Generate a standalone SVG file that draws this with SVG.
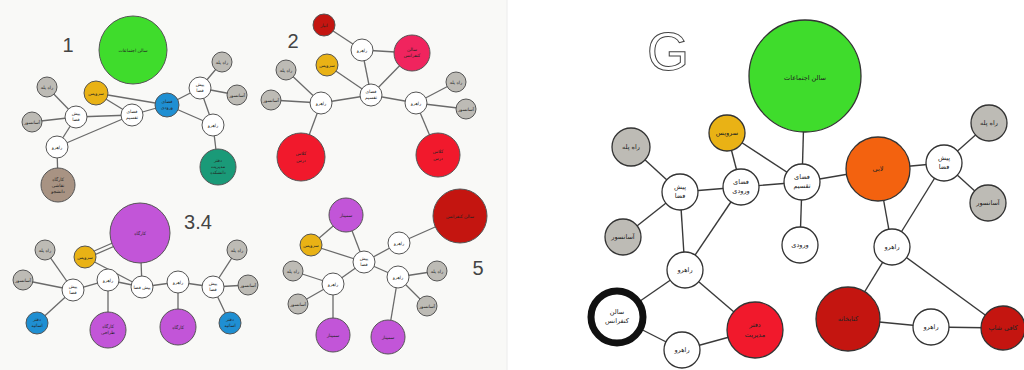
<svg xmlns="http://www.w3.org/2000/svg" width="1024" height="370" viewBox="0 0 1024 370">
<style>
.bg{fill:#f9f9f7}
.e{stroke:#6a6a6a;stroke-width:1.3;fill:none}
.eg{stroke:#3a3a3a;stroke-width:1.4;fill:none}
.c{stroke:#555;stroke-width:1}
.cg{stroke:#333;stroke-width:1.3}
.w{fill:#ffffff}
.gy{fill:#bdbbb5}
.yl{fill:#e9b215}
.bl{fill:#1f8fd2}
.tl{fill:#1a9a78}
.br{fill:#a89383}
.gr{fill:#3fdc2c}
.pk{fill:#f0245e}
.rd{fill:#f1192c}
.dr{fill:#c41510}
.pu{fill:#c255d8}
.or{fill:#f3620f}
.t{font-family:"DejaVu Sans",sans-serif;font-size:4.5px;fill:#222;text-anchor:middle}
.tg{font-family:"DejaVu Sans",sans-serif;font-size:6.5px;fill:#222;text-anchor:middle}
.num{font-family:"Liberation Sans",sans-serif;font-size:20px;fill:#444;text-anchor:middle}
</style>
<rect class="bg" x="0" y="0" width="507" height="370"/>
<line x1="507" y1="0" x2="507" y2="370" stroke="#ececec" stroke-width="1"/>

<g id="connectors">
<!-- panel 1 -->
<line class="e" x1="96" y1="93" x2="132" y2="115"/>
<line class="e" x1="96" y1="93" x2="167" y2="105"/>
<line class="e" x1="132" y1="115" x2="167" y2="105"/>
<line class="e" x1="132" y1="115" x2="76" y2="117"/>
<line class="e" x1="132" y1="115" x2="57" y2="147"/>
<line class="e" x1="76" y1="117" x2="47" y2="87"/>
<line class="e" x1="76" y1="117" x2="32" y2="122"/>
<line class="e" x1="76" y1="117" x2="57" y2="147"/>
<line class="e" x1="57" y1="147" x2="58" y2="185"/>
<line class="e" x1="167" y1="105" x2="200" y2="88"/>
<line class="e" x1="167" y1="105" x2="213" y2="125"/>
<line class="e" x1="200" y1="88" x2="222" y2="62"/>
<line class="e" x1="200" y1="88" x2="237" y2="95"/>
<line class="e" x1="200" y1="88" x2="213" y2="125"/>
<line class="e" x1="213" y1="125" x2="218" y2="167"/>
<!-- panel 2 -->
<line class="e" x1="324" y1="25" x2="362" y2="50"/>
<line class="e" x1="362" y1="50" x2="412" y2="53"/>
<line class="e" x1="362" y1="50" x2="371" y2="95"/>
<line class="e" x1="327" y1="65" x2="371" y2="95"/>
<line class="e" x1="412" y1="53" x2="371" y2="95"/>
<line class="e" x1="371" y1="95" x2="321" y2="103"/>
<line class="e" x1="371" y1="95" x2="416" y2="103"/>
<line class="e" x1="321" y1="103" x2="286" y2="70"/>
<line class="e" x1="321" y1="103" x2="271" y2="100"/>
<line class="e" x1="321" y1="103" x2="301" y2="157"/>
<line class="e" x1="416" y1="103" x2="456" y2="82"/>
<line class="e" x1="416" y1="103" x2="466" y2="109"/>
<line class="e" x1="416" y1="103" x2="438" y2="155"/>
<!-- panel 3.4 -->
<line class="e" x1="85" y1="255" x2="140" y2="231"/>
<line class="e" x1="85" y1="259" x2="140" y2="235"/>
<line class="e" x1="85" y1="257" x2="142" y2="287"/>
<line class="e" x1="140" y1="233" x2="142" y2="287"/>
<line class="e" x1="73" y1="290" x2="45" y2="250"/>
<line class="e" x1="73" y1="290" x2="23" y2="280"/>
<line class="e" x1="73" y1="290" x2="37" y2="323"/>
<line class="e" x1="73" y1="290" x2="108" y2="280"/>
<line class="e" x1="108" y1="280" x2="142" y2="287"/>
<line class="e" x1="108" y1="280" x2="108" y2="330"/>
<line class="e" x1="142" y1="287" x2="178" y2="282"/>
<line class="e" x1="178" y1="282" x2="178" y2="327"/>
<line class="e" x1="178" y1="282" x2="213" y2="287"/>
<line class="e" x1="213" y1="287" x2="237" y2="250"/>
<line class="e" x1="213" y1="287" x2="248" y2="285"/>
<line class="e" x1="213" y1="287" x2="230" y2="323"/>
<!-- panel 5 -->
<line class="e" x1="311" y1="245" x2="346" y2="215"/>
<line class="e" x1="311" y1="245" x2="364" y2="262"/>
<line class="e" x1="346" y1="215" x2="364" y2="262"/>
<line class="e" x1="364" y1="262" x2="399" y2="243"/>
<line class="e" x1="399" y1="243" x2="460" y2="216"/>
<line class="e" x1="364" y1="262" x2="398" y2="277"/>
<line class="e" x1="364" y1="262" x2="333" y2="284"/>
<line class="e" x1="333" y1="284" x2="293" y2="271"/>
<line class="e" x1="333" y1="284" x2="298" y2="304"/>
<line class="e" x1="333" y1="284" x2="333" y2="335"/>
<line class="e" x1="398" y1="277" x2="437" y2="271"/>
<line class="e" x1="398" y1="277" x2="427" y2="306"/>
<line class="e" x1="398" y1="277" x2="388" y2="337"/>
<!-- panel G -->
<line class="eg" x1="631" y1="147" x2="680" y2="192"/>
<line class="eg" x1="727" y1="133" x2="741" y2="187"/>
<line class="eg" x1="727" y1="133" x2="802" y2="182"/>
<line class="eg" x1="805" y1="76" x2="802" y2="182"/>
<line class="eg" x1="680" y1="192" x2="741" y2="187"/>
<line class="eg" x1="741" y1="187" x2="802" y2="182"/>
<line class="eg" x1="802" y1="182" x2="800" y2="245"/>
<line class="eg" x1="802" y1="182" x2="878" y2="169"/>
<line class="eg" x1="878" y1="169" x2="944" y2="163"/>
<line class="eg" x1="944" y1="163" x2="989" y2="123"/>
<line class="eg" x1="944" y1="163" x2="988" y2="203"/>
<line class="eg" x1="944" y1="163" x2="892" y2="247"/>
<line class="eg" x1="878" y1="169" x2="892" y2="247"/>
<line class="eg" x1="680" y1="192" x2="623" y2="237"/>
<line class="eg" x1="680" y1="192" x2="685" y2="270"/>
<line class="eg" x1="741" y1="187" x2="685" y2="270"/>
<line class="eg" x1="685" y1="270" x2="617" y2="317"/>
<line class="eg" x1="685" y1="270" x2="755" y2="330"/>
<line class="eg" x1="617" y1="317" x2="682" y2="350"/>
<line class="eg" x1="682" y1="350" x2="755" y2="330"/>
<line class="eg" x1="892" y1="247" x2="848" y2="319"/>
<line class="eg" x1="892" y1="247" x2="1003" y2="328"/>
<line class="eg" x1="848" y1="319" x2="931" y2="327"/>
<line class="eg" x1="931" y1="327" x2="1003" y2="328"/>
</g>

<!-- labels -->
<text class="num" x="68" y="52">1</text>
<text class="num" x="293" y="48">2</text>
<text class="num" x="198" y="229">3.4</text>
<text class="num" x="478" y="275">5</text>
<text x="668" y="70" font-family="Liberation Sans, sans-serif" font-size="54" fill="#fff" stroke="#444" stroke-width="1" text-anchor="middle">G</text>

<!-- panel 1 nodes -->
<g id="p1-hall"><circle class="c gr" cx="133" cy="50" r="34"/><text class="t" x="133" y="52" font-size="5.5">سالن اجتماعات</text></g>
<g id="p1-wc"><circle class="c yl" cx="96" cy="93" r="12"/><text class="t" x="96" y="95">سرویس</text></g>
<g id="p1-entry"><circle class="c bl" cx="167" cy="105" r="12"/><text class="t" x="167" y="103">فضای</text><text class="t" x="167" y="109">ورودی</text></g>
<g id="p1-dist"><circle class="c w" cx="132" cy="115" r="11"/><text class="t" x="132" y="113">فضای</text><text class="t" x="132" y="119">تقسیم</text></g>
<g id="p1-pre-l"><circle class="c w" cx="76" cy="117" r="11"/><text class="t" x="76" y="115">پیش</text><text class="t" x="76" y="121">فضا</text></g>
<g id="p1-stair-l"><circle class="c gy" cx="47" cy="87" r="10"/><text class="t" x="47" y="89">راه پله</text></g>
<g id="p1-lift-l"><circle class="c gy" cx="32" cy="122" r="10"/><text class="t" x="32" y="124">آسانسور</text></g>
<g id="p1-corr-l"><circle class="c w" cx="57" cy="147" r="11"/><text class="t" x="57" y="149">راهرو</text></g>
<g id="p1-work"><circle class="c br" cx="58" cy="185" r="17"/><text class="t" x="58" y="181">کارگاه</text><text class="t" x="58" y="187">نقاشی</text><text class="t" x="58" y="193">دانشجو</text></g>
<g id="p1-pre-r"><circle class="c w" cx="200" cy="88" r="11"/><text class="t" x="200" y="86">پیش</text><text class="t" x="200" y="92">فضا</text></g>
<g id="p1-stair-r"><circle class="c gy" cx="222" cy="62" r="10"/><text class="t" x="222" y="64">راه پله</text></g>
<g id="p1-lift-r"><circle class="c gy" cx="237" cy="95" r="10"/><text class="t" x="237" y="97">آسانسور</text></g>
<g id="p1-corr-r"><circle class="c w" cx="213" cy="125" r="11"/><text class="t" x="213" y="127">راهرو</text></g>
<g id="p1-office"><circle class="c tl" cx="218" cy="167" r="18"/><text class="t" x="218" y="162">دفتر</text><text class="t" x="218" y="168">مدیریت</text><text class="t" x="218" y="174">دانشکده</text></g>

<!-- panel 2 nodes -->
<g id="p2-store"><circle class="c dr" cx="324" cy="25" r="11"/><text class="t" x="324" y="27">انبار</text></g>
<g id="p2-corr-t"><circle class="c w" cx="362" cy="50" r="11"/><text class="t" x="362" y="52">راهرو</text></g>
<g id="p2-conf"><circle class="c pk" cx="412" cy="53" r="18"/><text class="t" x="412" y="51">سالن</text><text class="t" x="412" y="57">کنفرانس</text></g>
<g id="p2-wc"><circle class="c yl" cx="327" cy="65" r="11"/><text class="t" x="327" y="67">سرویس</text></g>
<g id="p2-dist"><circle class="c w" cx="371" cy="95" r="11"/><text class="t" x="371" y="93">فضای</text><text class="t" x="371" y="99">تقسیم</text></g>
<g id="p2-stair-l"><circle class="c gy" cx="286" cy="70" r="10"/><text class="t" x="286" y="72">راه پله</text></g>
<g id="p2-lift-l"><circle class="c gy" cx="271" cy="100" r="10"/><text class="t" x="271" y="102">آسانسور</text></g>
<g id="p2-corr-l"><circle class="c w" cx="321" cy="103" r="11"/><text class="t" x="321" y="105">راهرو</text></g>
<g id="p2-corr-r"><circle class="c w" cx="416" cy="103" r="11"/><text class="t" x="416" y="105">راهرو</text></g>
<g id="p2-stair-r"><circle class="c gy" cx="456" cy="82" r="10"/><text class="t" x="456" y="84">راه پله</text></g>
<g id="p2-lift-r"><circle class="c gy" cx="466" cy="109" r="10"/><text class="t" x="466" y="111">آسانسور</text></g>
<g id="p2-class-l"><circle class="c rd" cx="301" cy="157" r="24"/><text class="t" x="301" y="155">کلاس</text><text class="t" x="301" y="162">درس</text></g>
<g id="p2-class-r"><circle class="c rd" cx="438" cy="155" r="22"/><text class="t" x="438" y="153">کلاس</text><text class="t" x="438" y="160">درس</text></g>

<!-- panel 3.4 nodes -->
<g id="p3-work-big"><circle class="c pu" cx="140" cy="233" r="30"/><text class="t" x="140" y="235" font-size="5.5">کارگاه</text></g>
<g id="p3-wc"><circle class="c yl" cx="85" cy="257" r="11"/><text class="t" x="85" y="259">سرویس</text></g>
<g id="p3-stair-l"><circle class="c gy" cx="45" cy="250" r="10"/><text class="t" x="45" y="252">راه پله</text></g>
<g id="p3-lift-l"><circle class="c gy" cx="23" cy="280" r="10"/><text class="t" x="23" y="282">آسانسور</text></g>
<g id="p3-pre-l"><circle class="c w" cx="73" cy="290" r="11"/><text class="t" x="73" y="288">پیش</text><text class="t" x="73" y="294">فضا</text></g>
<g id="p3-corr-l"><circle class="c w" cx="108" cy="280" r="11"/><text class="t" x="108" y="282">راهرو</text></g>
<g id="p3-center"><circle class="c w" cx="142" cy="287" r="11"/><text class="t" x="142" y="289">پیش فضا</text></g>
<g id="p3-corr-r"><circle class="c w" cx="178" cy="282" r="11"/><text class="t" x="178" y="284">راهرو</text></g>
<g id="p3-pre-r"><circle class="c w" cx="213" cy="287" r="11"/><text class="t" x="213" y="285">پیش</text><text class="t" x="213" y="291">فضا</text></g>
<g id="p3-stair-r"><circle class="c gy" cx="237" cy="250" r="10"/><text class="t" x="237" y="252">راه پله</text></g>
<g id="p3-lift-r"><circle class="c gy" cx="248" cy="285" r="10"/><text class="t" x="248" y="287">آسانسور</text></g>
<g id="p3-office-l"><circle class="c bl" cx="37" cy="323" r="11"/><text class="t" x="37" y="321">دفتر</text><text class="t" x="37" y="327">اساتید</text></g>
<g id="p3-work-l"><circle class="c pu" cx="108" cy="330" r="18"/><text class="t" x="108" y="328">کارگاه</text><text class="t" x="108" y="334">طراحی</text></g>
<g id="p3-work-r"><circle class="c pu" cx="178" cy="327" r="18"/><text class="t" x="178" y="329">کارگاه</text></g>
<g id="p3-office-r"><circle class="c bl" cx="230" cy="323" r="11"/><text class="t" x="230" y="321">دفتر</text><text class="t" x="230" y="327">اساتید</text></g>

<!-- panel 5 nodes -->
<g id="p5-conf"><circle class="c dr" cx="460" cy="216" r="27"/><text class="t" x="460" y="218">سالن کنفرانس</text></g>
<g id="p5-sem-t"><circle class="c pu" cx="346" cy="215" r="17"/><text class="t" x="346" y="217">سمینار</text></g>
<g id="p5-wc"><circle class="c yl" cx="311" cy="245" r="11"/><text class="t" x="311" y="247">سرویس</text></g>
<g id="p5-center"><circle class="c w" cx="364" cy="262" r="11"/><text class="t" x="364" y="260">پیش</text><text class="t" x="364" y="266">فضا</text></g>
<g id="p5-corr-t"><circle class="c w" cx="399" cy="243" r="11"/><text class="t" x="399" y="245">راهرو</text></g>
<g id="p5-corr-r"><circle class="c w" cx="398" cy="277" r="11"/><text class="t" x="398" y="279">راهرو</text></g>
<g id="p5-corr-l"><circle class="c w" cx="333" cy="284" r="11"/><text class="t" x="333" y="286">راهرو</text></g>
<g id="p5-stair-l"><circle class="c gy" cx="293" cy="271" r="10"/><text class="t" x="293" y="273">راه پله</text></g>
<g id="p5-lift-l"><circle class="c gy" cx="298" cy="304" r="10"/><text class="t" x="298" y="306">آسانسور</text></g>
<g id="p5-stair-r"><circle class="c gy" cx="437" cy="271" r="10"/><text class="t" x="437" y="273">راه پله</text></g>
<g id="p5-lift-r"><circle class="c gy" cx="427" cy="306" r="10"/><text class="t" x="427" y="308">آسانسور</text></g>
<g id="p5-sem-l"><circle class="c pu" cx="333" cy="335" r="17"/><text class="t" x="333" y="337">سمینار</text></g>
<g id="p5-sem-r"><circle class="c pu" cx="388" cy="337" r="17"/><text class="t" x="388" y="339">سمینار</text></g>

<!-- panel G nodes -->
<g id="g-hall"><circle class="cg gr" cx="805" cy="76" r="56"/><text class="tg" x="805" y="80" font-size="10">سالن اجتماعات</text></g>
<g id="g-wc"><circle class="cg yl" cx="727" cy="133" r="18"/><text class="tg" x="727" y="135">سرویس</text></g>
<g id="g-stair-l"><circle class="cg gy" cx="631" cy="147" r="19"/><text class="tg" x="631" y="149">راه پله</text></g>
<g id="g-pre-l"><circle class="cg w" cx="680" cy="192" r="18"/><text class="tg" x="680" y="189">پیش</text><text class="tg" x="680" y="198">فضا</text></g>
<g id="g-entry-space"><circle class="cg w" cx="741" cy="187" r="18"/><text class="tg" x="741" y="184">فضای</text><text class="tg" x="741" y="193">ورودی</text></g>
<g id="g-dist"><circle class="cg w" cx="802" cy="182" r="18"/><text class="tg" x="802" y="179">فضای</text><text class="tg" x="802" y="188">تقسیم</text></g>
<g id="g-entry"><circle class="cg w" cx="800" cy="245" r="18"/><text class="tg" x="800" y="247">ورودی</text></g>
<g id="g-lobby"><circle class="cg or" cx="878" cy="169" r="32"/><text class="tg" x="878" y="171">لابی</text></g>
<g id="g-pre-r"><circle class="cg w" cx="944" cy="163" r="18"/><text class="tg" x="944" y="160">پیش</text><text class="tg" x="944" y="169">فضا</text></g>
<g id="g-stair-r"><circle class="cg gy" cx="989" cy="123" r="18"/><text class="tg" x="989" y="125">راه پله</text></g>
<g id="g-lift-r"><circle class="cg gy" cx="988" cy="203" r="18"/><text class="tg" x="988" y="205">آسانسور</text></g>
<g id="g-corr-r"><circle class="cg w" cx="892" cy="247" r="18"/><text class="tg" x="892" y="249">راهرو</text></g>
<g id="g-lift-l"><circle class="cg gy" cx="623" cy="237" r="18"/><text class="tg" x="623" y="239">آسانسور</text></g>
<g id="g-corr-l"><circle class="cg w" cx="685" cy="270" r="18"/><text class="tg" x="685" y="272">راهرو</text></g>
<g id="g-conf"><circle cx="617" cy="317" r="26" fill="#fff" stroke="#111" stroke-width="7"/><text class="tg" x="617" y="314">سالن</text><text class="tg" x="617" y="323">کنفرانس</text></g>
<g id="g-corr-b"><circle class="cg w" cx="682" cy="350" r="18"/><text class="tg" x="682" y="352">راهرو</text></g>
<g id="g-office"><circle class="cg rd" cx="755" cy="330" r="28"/><text class="tg" x="755" y="327">دفتر</text><text class="tg" x="755" y="337">مدیریت</text></g>
<g id="g-library"><circle class="cg dr" cx="848" cy="319" r="32"/><text class="tg" x="848" y="321">کتابخانه</text></g>
<g id="g-corr-br"><circle class="cg w" cx="931" cy="327" r="18"/><text class="tg" x="931" y="329">راهرو</text></g>
<g id="g-cafe"><circle class="cg dr" cx="1003" cy="328" r="22"/><text class="tg" x="1003" y="330">کافی شاپ</text></g>
</svg>
